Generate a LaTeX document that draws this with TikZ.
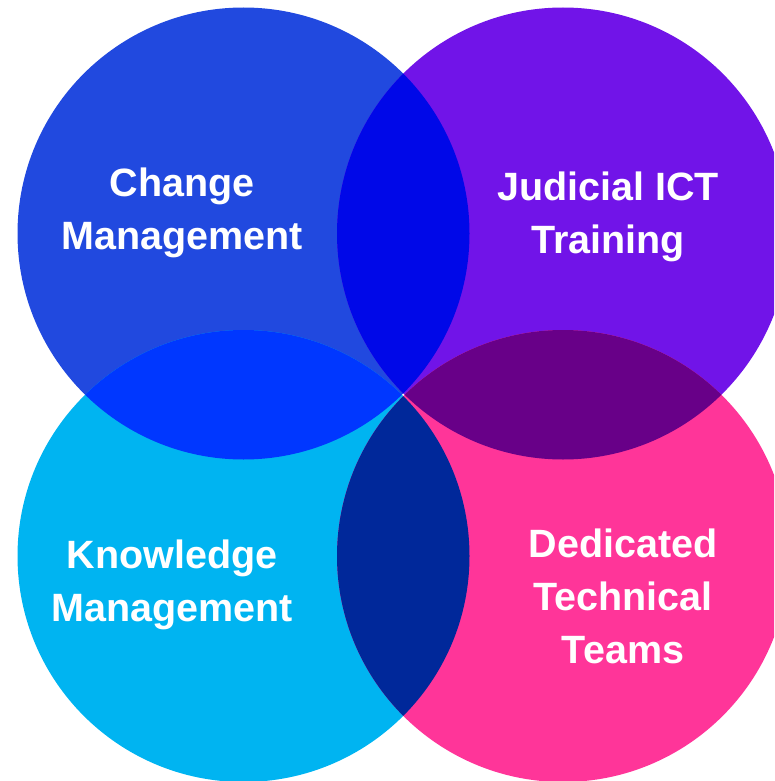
\documentclass[tikz,border=0pt]{standalone}
\usepackage{fontspec}
\setmainfont{Liberation Sans}
\usetikzlibrary{positioning}
\definecolor{changeblue}{HTML}{2149DF}
\definecolor{trainpurple}{HTML}{7114E8}
\definecolor{knowcyan}{HTML}{00B4F1}
\definecolor{teampink}{HTML}{FF3599}
\definecolor{lensblue}{HTML}{0008E8}
\definecolor{lensbright}{HTML}{0037FF}
\definecolor{lensplum}{HTML}{680088}
\definecolor{lensnavy}{HTML}{00289A}

\begin{document}
\begin{tikzpicture}[x=1pt,y=1pt]
                    \tikzstyle{every node}+=[inner sep=0pt]
                    \tikzstyle{label}=[text=white, align=center, font=\fontsize{39.5}{53}\selectfont\bfseries]
                    \useasboundingbox (0,0) rectangle (774,-781);
                    \clip (0,0) rectangle (774,-781);
                    % circle centres
                    \coordinate (cm) at (243.5,-233.5);
                    \coordinate (jt) at (563,-233.5);
                    \coordinate (km) at (243.5,-556);
                    \coordinate (dt) at (563,-556);
                    \fill [changeblue] (cm) circle (226);
                    \fill [trainpurple] (jt) circle (226);
                    \fill [knowcyan] (km) circle (226);
                    \fill [teampink] (dt) circle (226);
                    % overlaps
                    \begin{scope}
                        \clip (cm) circle (226);
                        \fill [lensblue] (jt) circle (226);
                        \fill [lensbright] (km) circle (226);
                    \end{scope}
                    \begin{scope}
                        \clip (dt) circle (226);
                        \fill [lensplum] (jt) circle (226);
                        \fill [lensnavy] (km) circle (226);
                    \end{scope}
                    % labels
                    \node [label] (change) at (182,-213) {Change\\Management};
                    \node [label] (training) at (608,-216.5) {Judicial ICT\\Training};
                    \node [label] (knowledge) at (172,-585) {Knowledge\\Management};
                    \node [label] (teams) at (623,-596) {Dedicated\\Technical\\Teams};
                \end{tikzpicture}
\end{document}
